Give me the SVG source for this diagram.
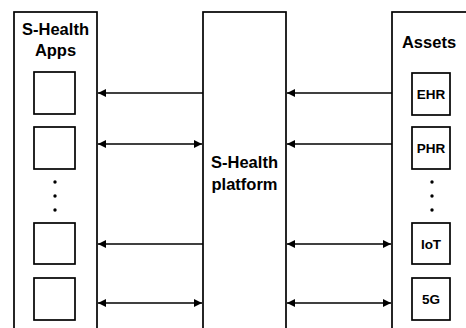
<svg xmlns="http://www.w3.org/2000/svg" width="466" height="328" viewBox="0 0 466 328">
<style>
.box{fill:#fff;stroke:#000;stroke-width:1.7}
.t{font-family:"Liberation Sans",Arial,sans-serif;font-weight:bold;fill:#000;text-anchor:middle}
.big{font-size:16.5px}
.sm{font-size:13.5px}
.ln{stroke:#000;stroke-width:1.7;fill:none}
.dot{fill:#000}
</style>
<defs>
<marker id="ah" viewBox="0 0 10 10" refX="10" refY="5" markerWidth="9" markerHeight="8" markerUnits="userSpaceOnUse" orient="auto-start-reverse">
<path d="M0,0 L10,5 L0,10 z" fill="#000"/>
</marker>
</defs>
<rect x="0" y="0" width="466" height="328" fill="#fff"/>
<g id="apps">
<rect class="box" x="14" y="12" width="83" height="330"/>
<text class="t big" x="55.5" y="35">S-Health</text>
<text class="t big" x="55.5" y="56">Apps</text>
<rect class="box" x="34" y="72" width="41" height="42"/>
<rect class="box" x="34" y="127" width="41" height="42"/>
<circle class="dot" cx="55" cy="182" r="1.7"/>
<circle class="dot" cx="55" cy="196" r="1.7"/>
<circle class="dot" cx="55" cy="210" r="1.7"/>
<rect class="box" x="34" y="223" width="41" height="41"/>
<rect class="box" x="34" y="278" width="41" height="42"/>
</g>
<g id="platform">
<rect class="box" x="203" y="12" width="83" height="330"/>
<text class="t big" x="244.5" y="168">S-Health</text>
<text class="t big" x="244.5" y="190">platform</text>
</g>
<g id="assets">
<rect class="box" x="392" y="12" width="100" height="330"/>
<text class="t big" x="429" y="48">Assets</text>
<rect class="box" x="412" y="73" width="38" height="42"/>
<text class="t sm" x="431" y="99">EHR</text>
<rect class="box" x="412" y="127" width="38" height="42"/>
<text class="t sm" x="431" y="153">PHR</text>
<circle class="dot" cx="432" cy="182" r="1.7"/>
<circle class="dot" cx="432" cy="196" r="1.7"/>
<circle class="dot" cx="432" cy="210" r="1.7"/>
<rect class="box" x="412" y="223" width="38" height="41"/>
<text class="t sm" x="431" y="249">IoT</text>
<rect class="box" x="412" y="278" width="38" height="42"/>
<text class="t sm" x="431" y="304">5G</text>
</g>
<g id="connectors">
<line class="ln" x1="203" y1="93" x2="98" y2="93" marker-end="url(#ah)"/>
<line class="ln" x1="392" y1="93" x2="287" y2="93" marker-end="url(#ah)"/>
<line class="ln" x1="98" y1="144" x2="202" y2="144" marker-start="url(#ah)" marker-end="url(#ah)"/>
<line class="ln" x1="392" y1="144" x2="287" y2="144" marker-end="url(#ah)"/>
<line class="ln" x1="203" y1="244" x2="98" y2="244" marker-end="url(#ah)"/>
<line class="ln" x1="287" y1="244" x2="391" y2="244" marker-start="url(#ah)" marker-end="url(#ah)"/>
<line class="ln" x1="98" y1="303" x2="202" y2="303" marker-start="url(#ah)" marker-end="url(#ah)"/>
<line class="ln" x1="287" y1="303" x2="391" y2="303" marker-start="url(#ah)" marker-end="url(#ah)"/>
</g>
</svg>
